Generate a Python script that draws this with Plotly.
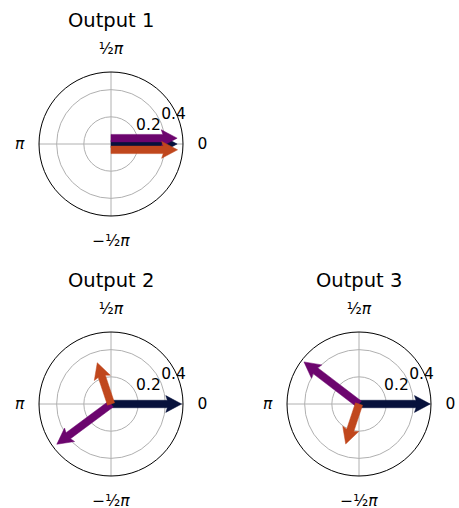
import numpy as np
import plotly.graph_objects as go

# ---- data ----
panel_titles = ["Output 1", "Output 2", "Output 3"]
series_colors = ["#07113c", "#6c056e", "#c0471d"]  # navy, purple, orange

out1_angle_deg = [0.0, 0.0, 0.0]
out1_magnitude = [0.487, 0.487, 0.490]

out2_angle_deg = [0.0, -143.4, 108.4]
out2_magnitude = [0.520, 0.497, 0.320]

out3_angle_deg = [0.0, 142.6, -108.4]
out3_magnitude = [0.525, 0.510, 0.310]

radial_tickvals = [0.2, 0.4]
radial_ticktext = ["0.2", "0.4"]
angular_tickvals = [0, 90, 180, 270]
angular_ticktext = ["0", "½<i>π</i>", "<i>π</i>", "−½<i>π</i>"]

panels = [
    (out1_angle_deg, out1_magnitude),
    (out2_angle_deg, out2_magnitude),
    (out3_angle_deg, out3_magnitude),
]

# ---- styling / layout ----
W, H = 459, 508
RMAX = 0.53
FONT = "DejaVu Sans"
GRID = "#b0b0b0"
RLABEL_ANGLE = 22.5
# polar domains (pixel boxes: left, top, size)
boxes = [(39, 72, 144), (39, 332, 144), (287, 332, 144)]
lanes = [0, 1, -1]          # spread apart arrows that share one direction
LANE_STEP = 0.043
HEAD_LEN, HEAD_HALF_W, BODY_HALF_W = 0.117, 0.062, 0.0275


def arrow_polygon(mag, ang_deg, shift):
    hal = 0.9 * HEAD_LEN
    L = mag
    local = [(0, BODY_HALF_W), (L - hal, BODY_HALF_W), (L - HEAD_LEN, HEAD_HALF_W),
             (L, 0), (L - HEAD_LEN, -HEAD_HALF_W), (L - hal, -BODY_HALF_W),
             (0, -BODY_HALF_W), (0, BODY_HALF_W)]
    a = np.deg2rad(ang_deg)
    ca, sa = np.cos(a), np.sin(a)
    r, th = [], []
    for px, py in local:
        py = py + shift
        x = px * ca - py * sa
        y = px * sa + py * ca
        r.append(float(np.hypot(x, y)))
        th.append(float(np.rad2deg(np.arctan2(y, x))))
    return r, th


fig = go.Figure()
layout_updates = {}
annotations = []
for i, ((angs, mags), title, (left, top, size)) in enumerate(zip(panels, panel_titles, boxes)):
    pname = "polar" if i == 0 else f"polar{i + 1}"
    same_dir = len(set(angs)) == 1
    for k, (ang, mag) in enumerate(zip(angs, mags)):
        shift = lanes[k] * LANE_STEP if same_dir else 0.0
        r, th = arrow_polygon(mag, ang, shift)
        fig.add_trace(go.Scatterpolar(
            r=r, theta=th, mode="lines", fill="toself",
            fillcolor=series_colors[k],
            line=dict(color=series_colors[k], width=0.5),
            subplot=pname, hoverinfo="skip", showlegend=False))
    # radial tick labels, matplotlib-style (bottom-left corner at the tick)
    fig.add_trace(go.Scatterpolar(
        r=radial_tickvals, theta=[RLABEL_ANGLE] * len(radial_tickvals),
        mode="text", text=radial_ticktext, textposition="top right",
        textfont=dict(family=FONT, size=15.5, color="black"),
        subplot=pname, hoverinfo="skip", showlegend=False, cliponaxis=False))
    x0, x1 = left / W, (left + size) / W
    y1, y0 = 1 - top / H, 1 - (top + size) / H
    layout_updates[pname] = dict(
        domain=dict(x=[x0, x1], y=[y0, y1]),
        bgcolor="white",
        radialaxis=dict(range=[0, RMAX], tickmode="array", tickvals=radial_tickvals,
                        ticktext=radial_ticktext, showline=False, ticks="",
                        showticklabels=False,
                        angle=RLABEL_ANGLE, gridcolor=GRID, gridwidth=1),
        angularaxis=dict(rotation=0, direction="counterclockwise", tickmode="array",
                         tickvals=angular_tickvals, ticktext=angular_ticktext,
                         showline=True, linecolor="black", linewidth=1,
                         gridcolor=GRID, gridwidth=1, ticks="outside", ticklen=11,
                         tickcolor="rgba(0,0,0,0)",
                         tickfont=dict(family=FONT, size=15.5, color="black")),
    )
    annotations.append(dict(
        text=title, x=(x0 + x1) / 2, y=1 - (top - 52) / H, xref="paper", yref="paper",
        xanchor="center", yanchor="middle", showarrow=False,
        font=dict(family=FONT, size=19.5, color="black")))

fig.update_layout(
    width=W, height=H, margin=dict(l=0, r=0, t=0, b=0),
    paper_bgcolor="white", plot_bgcolor="white", showlegend=False,
    font=dict(family=FONT, color="black"),
    annotations=annotations, **layout_updates)

fig.write_html("out.html", config={"displayModeBar": False},
               post_script="document.body.style.margin='0px';")
